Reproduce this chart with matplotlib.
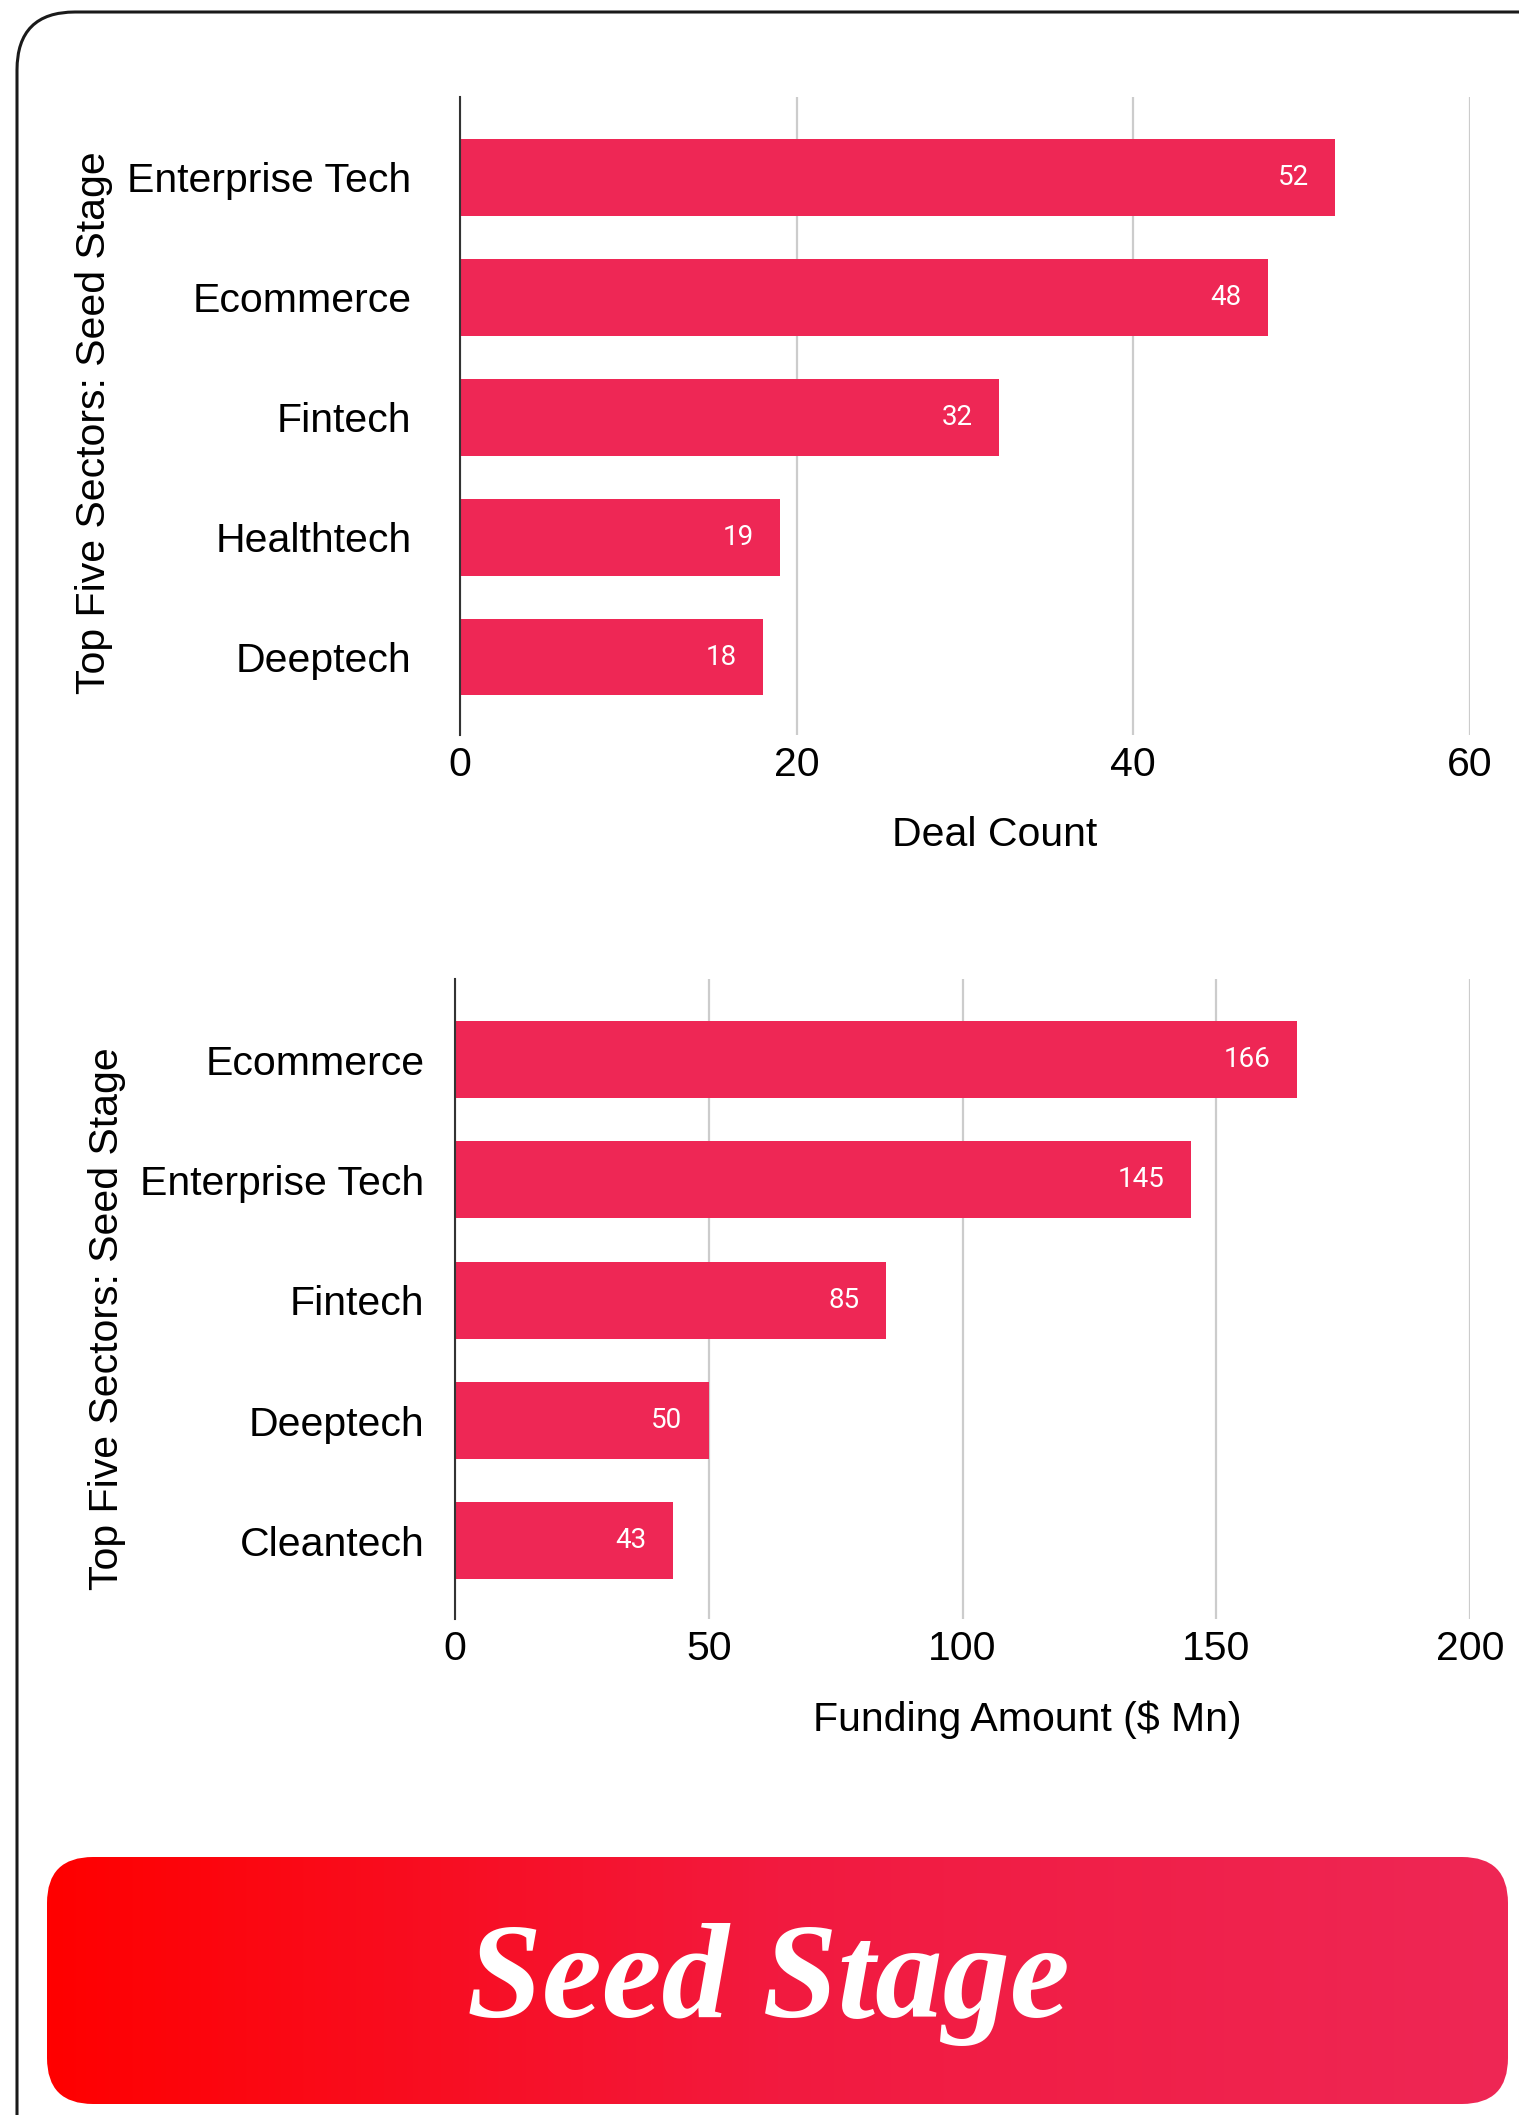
import matplotlib
matplotlib.use('Agg')
import matplotlib.pyplot as plt
import numpy as np
from matplotlib.patches import FancyBboxPatch
from matplotlib.colors import LinearSegmentedColormap

plt.rcParams.update({
    'font.family': ['Liberation Sans', 'DejaVu Sans'],
    'font.size': 29.5,
    'axes.spines.top': False,
    'axes.spines.right': False,
    'axes.spines.bottom': False,
})

# data
deal_sectors = ['Enterprise Tech', 'Ecommerce', 'Fintech', 'Healthtech', 'Deeptech']
deal_counts = [52, 48, 32, 19, 18]
deal_ticks = [0, 20, 40, 60]

fund_sectors = ['Ecommerce', 'Enterprise Tech', 'Fintech', 'Deeptech', 'Cleantech']
fund_amounts = [166, 145, 85, 50, 43]
fund_ticks = [0, 50, 100, 150, 200]

BAR = '#EE2755'
W, H = 1519, 2115

fig = plt.figure(figsize=(W / 100, H / 100), dpi=100)

# background layer in pixel coords: card border + gradient banner
bg = fig.add_axes([0, 0, 1, 1], zorder=0)
bg.axis('off')

card = FancyBboxPatch((17, 12), 1560, 2180, boxstyle='round,pad=0,rounding_size=58',
                      facecolor='white', edgecolor='#1a1a1a', linewidth=2.2)
bg.add_patch(card)

banner = FancyBboxPatch((47, 1857), 1461, 247, boxstyle='round,pad=0,rounding_size=46',
                        facecolor='none', edgecolor='none')
bg.add_patch(banner)
cmap = LinearSegmentedColormap.from_list('banner', ['#FF0000', '#F21A3F', '#EE2755'])
grad = np.linspace(0, 1, 512).reshape(1, -1)
im = bg.imshow(grad, cmap=cmap, aspect='auto', extent=(47, 1508, 2104, 1857), zorder=1)
im.set_clip_path(banner)
bg.set_xlim(0, W)
bg.set_ylim(H, 0)
bg.text(768, 1985, 'Seed Stage', color='white', fontsize=97, fontweight='bold',
        fontstyle='italic', family=['Liberation Serif', 'DejaVu Serif'],
        ha='center', va='center', zorder=2)


def bar_panel(rect, cats, vals, ticks, xlabel, ypad, xlab_x, ylab_x, ylab_y):
    ax = fig.add_axes(rect, zorder=1)
    ax.patch.set_alpha(0)
    y = np.arange(len(cats))
    ax.barh(y, vals, height=0.64, color=BAR, zorder=3)
    for yi, v in zip(y, vals):
        ax.annotate(str(v), xy=(v, yi), xytext=(-19, 0), textcoords='offset points',
                    ha='right', va='center', color='white', fontsize=20,
                    family=['Roboto', 'DejaVu Sans'], zorder=4)
    ax.set_yticks(y)
    ax.set_yticklabels(cats)
    ax.set_ylim(len(cats) - 0.35, -0.67)
    ax.set_xlim(ticks[0], ticks[-1])
    ax.set_xticks(ticks)
    ax.tick_params(axis='both', length=0)
    ax.tick_params(axis='y', pad=ypad)
    ax.tick_params(axis='x', pad=8)
    ax.grid(axis='x', color='#cccccc', linewidth=1.6, zorder=0)
    ax.spines['left'].set_color('#333333')
    ax.spines['left'].set_linewidth(1.5)
    ax.spines['left'].set_zorder(5)
    ax.set_xlabel(xlabel, va='center')
    ax.xaxis.set_label_coords(xlab_x, -0.157)
    ax.set_ylabel('Top Five Sectors: Seed Stage', va='center')
    ax.yaxis.set_label_coords(ylab_x, ylab_y)
    return ax


bar_panel([460 / W, 1 - 735 / H, 1010 / W, 638 / H], deal_sectors, deal_counts,
          deal_ticks, 'Deal Count', 35, 0.529, -0.362, 0.49)
bar_panel([455 / W, 1 - 1619 / H, 1015 / W, 640 / H], fund_sectors, fund_amounts,
          fund_ticks, 'Funding Amount ($ Mn)', 22, 0.564, -0.343, 0.47)

fig.savefig('out.png', dpi=100)
